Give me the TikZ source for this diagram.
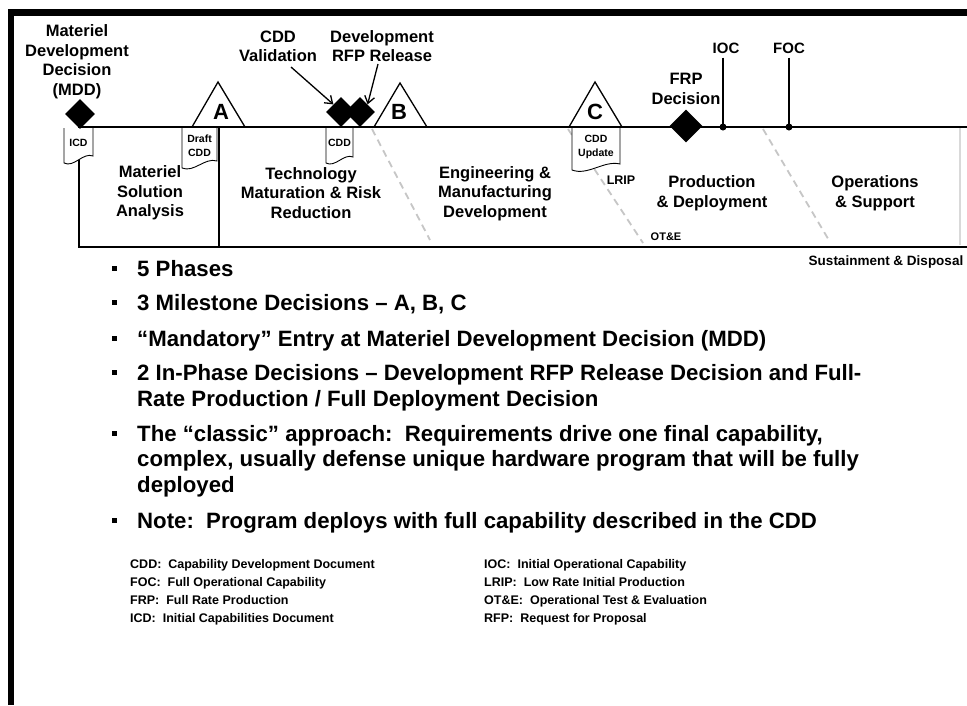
\documentclass[tikz,border=0pt]{standalone}
\usepackage{fontspec}
\setmainfont{Liberation Sans}
\usetikzlibrary{shapes.geometric,arrows.meta}
\begin{document}
\begin{tikzpicture}[x=1pt,y=-1pt,
  lbl/.style={font=\bfseries\fontsize{16.5}{19.5}\selectfont, align=center, inner sep=0pt},
  small/.style={font=\bfseries\fontsize{10.5}{14}\selectfont, align=center, inner sep=0pt},
  mile/.style={font=\bfseries\fontsize{22}{22}\selectfont, inner sep=0pt},
  bul/.style={font=\bfseries\fontsize{22.2}{26}\selectfont, anchor=base west, inner sep=0pt},
  leg/.style={font=\bfseries\fontsize{12.5}{15}\selectfont, anchor=base west, inner sep=0pt},
  dec/.style={diamond, fill=black, minimum size=30pt, inner sep=0pt, aspect=1},
  doc/.style={draw=black, fill=white, line width=0.9pt},
  tri/.style={draw=black, fill=white, line width=1.3pt, line join=miter},
  dashdiag/.style={draw=gray!45, line width=1.8pt, dash pattern=on 7pt off 5pt},
  callout/.style={-{Straight Barb[length=7pt,width=10pt]}, line width=1.3pt},
  dot/.style={circle, fill=black, minimum size=7pt, inner sep=0pt},
  sq/.style={rectangle, fill=black, minimum size=5pt, inner sep=0pt},
  tick/.style={line width=1.2pt},
]
\useasboundingbox (0,0) rectangle (967,705);
\fill[white] (0,0) rectangle (967,705);
% frame bars
\fill[black] (8,9) rectangle (967,16);
\fill[black] (8,9) rectangle (14,705);

% faint right edge and dashed phase overlaps
\draw[gray!30, line width=1.2pt] (960,127) -- (960,245);
\draw[dashdiag] (372,129) -- (430,240);
\draw[dashdiag] (568,129) -- (643,243);
\draw[dashdiag] (763,129) -- (830,242);

% milestone triangles
\draw[tri] (192,127) -- (218,82) -- (245,127) -- cycle;
\draw[tri] (374,127) -- (400,83) -- (427,127) -- cycle;
\draw[tri] (569,127) -- (595,82) -- (622,127) -- cycle;
\node[mile] (mA) at (221,112) {A};
\node[mile] (mB) at (399,112) {B};
\node[mile] (mC) at (595,112) {C};

% phase box
\draw[line width=2pt] (79,127) -- (79,247);
\draw[line width=2pt] (219,127) -- (219,247);
\draw[line width=2.6pt] (78,247) -- (711,247);
\draw[line width=1.8pt] (711,247) -- (967,247);
\draw[line width=2.6pt] (78,127) -- (967,127);

% documents
\draw[doc] (64,128) -- (64,163) .. controls (74,168) and (83,152) .. (93,156) -- (93,128);
\draw[doc] (182,128) -- (182,168) .. controls (194,173) and (205,157) .. (217,161) -- (217,128);
\draw[doc] (326,128) -- (326,163) .. controls (335,168) and (344,153) .. (353,157) -- (353,128);
\draw[doc] (572,128) -- (572,170) .. controls (588,176) and (604,160) .. (620,164) -- (620,128);
\node[small] (icd) at (78.5,143) {ICD};
\node[small] (dcdd) at (199.5,146) {Draft\\CDD};
\node[small] (cdd) at (339.5,143) {CDD};
\node[small] (cddu) at (596,147) {CDD\\Update};

% decision diamonds
\node[dec] (mdd) at (80,114) {};
\node[dec] (cddv) at (341,112) {};
\node[dec] (rfp) at (360,112) {};
\node[dec, minimum size=33pt] (frp) at (686,126) {};

% IOC / FOC
\node[dot] (ioc) at (723,127) {};
\node[dot] (foc) at (789,127) {};
\node[font=\bfseries\fontsize{15}{17}\selectfont, inner sep=0pt] (iocl) at (726,48) {IOC};
\node[font=\bfseries\fontsize{15}{17}\selectfont, inner sep=0pt] (focl) at (789,48) {FOC};
\draw[tick, shorten <=4pt] (iocl.south -| ioc) -- (ioc.center);
\draw[tick, shorten <=4pt] (focl.south -| foc) -- (foc.center);

% top labels
\node[lbl] (mddl) at (77,61.5) {Materiel\\Development\\Decision\\(MDD)};
\node[lbl] (cddvl) at (278,46.5) {CDD\\Validation};
\node[lbl] (rfpl) at (382,46) {Development\\RFP Release};
\node[lbl] (frpl) at (686,89) {FRP\\Decision};
\coordinate (c1) at (291,67);
\coordinate (c2) at (378,64);
\draw[callout] (c1) -- (cddv.north west);
\draw[callout] (c2) -- (rfp.north east);

% phase labels
\node[lbl] (msa) at (150,193) {Materiel\\Solution\\Analysis};
\node[lbl] (tmrr) at (311,193) {Technology\\Maturation \& Risk\\Reduction};
\node[lbl] (emd) at (495,193.5) {Engineering \&\\Manufacturing\\Development};
\node[lbl] (pd) at (712,193) {Production\\\& Deployment};
\node[lbl] (os) at (875,193) {Operations\\\& Support};
\node[font=\bfseries\fontsize{12.5}{14}\selectfont, inner sep=0pt] (lrip) at (621,180) {LRIP};
\node[font=\bfseries\fontsize{11}{13}\selectfont, inner sep=0pt] (ote) at (666,237) {OT\&E};
\node[font=\bfseries\fontsize{13.5}{15}\selectfont, inner sep=0pt] (sd) at (886,262) {Sustainment \& Disposal};

% bullets
\foreach \yy in {268,302,338,372,433,520} \node[sq] at (114,\yy) {};
\node[bul] (b1) at (137,276) {5 Phases};
\node[bul] (b2) at (137,310) {3 Milestone Decisions – A, B, C};
\node[bul] (b3) at (137,346) {“Mandatory” Entry at Materiel Development Decision (MDD)};
\node[bul] (b4) at (137,380) {2 In-Phase Decisions – Development RFP Release Decision and Full-};
\node[bul] (b4b) at (137,406) {Rate Production / Full Deployment Decision};
\node[bul] (b5) at (137,441) {The “classic” approach:\ \ Requirements drive one final capability,};
\node[bul] (b5b) at (137,466) {complex, usually defense unique hardware program that will be fully};
\node[bul] (b5c) at (137,492) {deployed};
\node[bul] (b6) at (137,528) {Note:\ \ Program deploys with full capability described in the CDD};

% legend
\node[leg] (l1) at (130,568) {CDD:\ \ Capability Development Document};
\node[leg] (l2) at (130,586) {FOC:\ \ Full Operational Capability};
\node[leg] (l3) at (130,604) {FRP:\ \ Full Rate Production};
\node[leg] (l4) at (130,622) {ICD:\ \ Initial Capabilities Document};
\node[leg] (r1) at (484,568) {IOC:\ \ Initial Operational Capability};
\node[leg] (r2) at (484,586) {LRIP:\ \ Low Rate Initial Production};
\node[leg] (r3) at (484,604) {OT\&E:\ \ Operational Test \& Evaluation};
\node[leg] (r4) at (484,622) {RFP:\ \ Request for Proposal};
\end{tikzpicture}
\end{document}
